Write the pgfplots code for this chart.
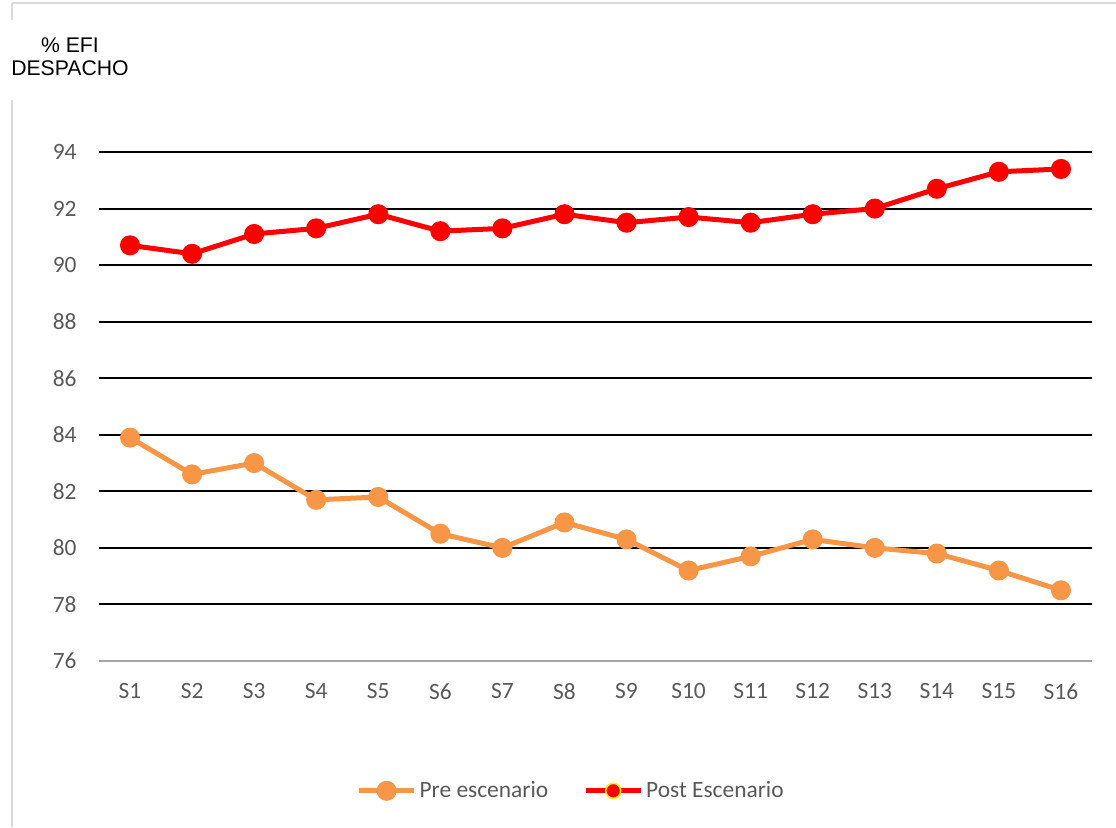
\documentclass[border=0pt]{standalone}
\usepackage{pgfplots}
\pgfplotsset{compat=1.18}
\usepackage{fontspec}
\setmainfont{Carlito}
\newfontfamily\arialf{Liberation Sans}

\definecolor{preorange}{HTML}{F79646}
\definecolor{postred}{HTML}{FF0000}
\definecolor{ticktext}{HTML}{595959}
\definecolor{framegray}{HTML}{D9D9D9}
\definecolor{axisgray}{HTML}{A6A6A6}

\begin{document}
\begin{tikzpicture}
\path[use as bounding box] (0pt,0pt) rectangle (558pt,413.5pt);
% chart frame
\draw[framegray, line width=1pt] (6pt,412pt) -- (558pt,412pt);
\draw[framegray, line width=1pt] (6pt,412pt) -- (6pt,403.5pt);
\draw[framegray, line width=1pt] (6pt,363.5pt) -- (6pt,0pt);
% value axis title
\node[font=\arialf\fontsize{10.6}{12}\selectfont, text=black, inner sep=0pt] at (35pt,391pt) {\% EFI};
\node[font=\arialf\fontsize{10.6}{12}\selectfont, text=black, inner sep=0pt] at (35pt,379.5pt) {DESPACHO};

\begin{axis}[
  at={(49.5pt,83pt)}, anchor=south west,
  scale only axis,
  width=496.5pt, height=254.5pt,
  xmin=0.5, xmax=16.5,
  ymin=76, ymax=94,
  xtick={1,...,16},
  xticklabels={S1,S2,S3,S4,S5,S6,S7,S8,S9,S10,S11,S12,S13,S14,S15,S16},
  ytick={76,78,...,94},
  major tick length=0pt,
  axis x line*=bottom,
  axis y line*=left,
  y axis line style={draw=none},
  x axis line style={draw=axisgray, line width=1pt, -},
  ymajorgrids,
  grid style={black, line width=1pt},
  /pgf/number format/assume math mode=true,
  tick label style={font=\fontsize{11.7}{14}\selectfont, text=ticktext},
  yticklabel style={inner sep=0pt, anchor=east, xshift=-11pt},
  xticklabel style={inner sep=0pt, anchor=north, yshift=-11pt},
  clip=false,
  legend style={
    at={(0.476,-0.255)}, anchor=center,
    draw=none, fill=none,
    legend columns=2,
    font=\fontsize{11.7}{14}\selectfont,
    text=ticktext,
    /tikz/every even column/.append style={column sep=16pt},
    nodes={inner sep=1.5pt},
  },
  legend cell align=left,
  legend image code/.code={
    \draw[mark repeat=2, mark phase=2, #1] plot coordinates {(0pt,0pt) (13.75pt,0pt) (27.5pt,0pt)};
  },
]

% Pre escenario
\addplot[preorange, line width=2.5pt, mark=*, mark size=3.75pt,
  mark options={fill=preorange, draw=none}] coordinates {
  (1,83.9) (2,82.6) (3,83.0) (4,81.7) (5,81.8) (6,80.5) (7,80.0) (8,80.9)
  (9,80.3) (10,79.2) (11,79.7) (12,80.3) (13,80.0) (14,79.8) (15,79.2) (16,78.5)
};
\addlegendentry{Pre escenario}

% Post Escenario
\addplot[postred, line width=2.5pt, mark=*, mark size=3.75pt,
  mark options={fill=postred, draw=none}, forget plot] coordinates {
  (1,90.7) (2,90.4) (3,91.1) (4,91.3) (5,91.8) (6,91.2) (7,91.3) (8,91.8)
  (9,91.5) (10,91.7) (11,91.5) (12,91.8) (13,92.0) (14,92.7) (15,93.3) (16,93.4)
};
\addlegendimage{postred, line width=2.5pt, mark=*, mark size=3.75pt,
  mark options={fill=postred, draw=yellow, line width=0.8pt}}
\addlegendentry{Post Escenario}
\end{axis}
\end{tikzpicture}
\end{document}
